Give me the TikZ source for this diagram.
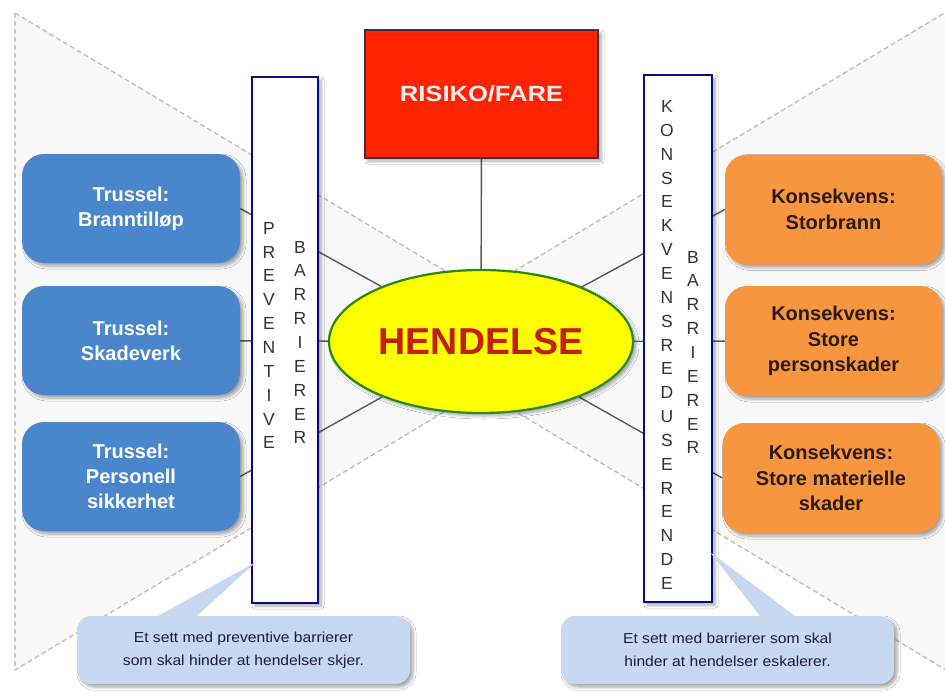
\documentclass[tikz,border=0pt]{standalone}
\usepackage{fontspec}
\setmainfont{Liberation Sans}
\usetikzlibrary{shapes.geometric,shadows.blur,calc}
\definecolor{tblue}{HTML}{4A86CB}
\definecolor{torange}{HTML}{F7963F}
\definecolor{otext}{HTML}{2B1A0E}
\definecolor{riskred}{HTML}{FF2200}
\definecolor{riskborder}{HTML}{4B2848}
\definecolor{riskfont}{HTML}{FFF0F0}
\definecolor{evgreen}{HTML}{2A8A10}
\definecolor{evred}{HTML}{C41E0E}
\definecolor{evyellow}{HTML}{FFFF00}
\definecolor{barnavy}{HTML}{0A0A80}
\definecolor{bartext}{HTML}{333333}
\definecolor{callfill}{HTML}{C6D9F0}
\definecolor{calltext}{HTML}{1C1C3A}
\definecolor{tribgfill}{HTML}{F9F9F9}
\definecolor{tribgline}{HTML}{B8B8B8}
\pgfdeclarelayer{bg}
\pgfsetlayers{bg,main}
\begin{document}
\begin{tikzpicture}[x=1pt,y=-1pt,
  boxshadow/.style={blur shadow={shadow xshift=3pt, shadow yshift=-3pt, shadow blur radius=3pt, shadow blur steps=6, shadow opacity=35}},
  tribg/.style={fill=tribgfill, draw=tribgline, dash pattern=on 5pt off 3pt, line width=1.2pt},
  conn/.style={draw=black!65, line width=1.4pt},
  bluebox/.style={rounded corners=22pt, fill=tblue, minimum width=218pt, minimum height=109pt, text=white, font=\fontsize{20}{25}\selectfont\bfseries, align=center, boxshadow},
  orangebox/.style={rounded corners=22pt, fill=torange, minimum width=217pt, minimum height=110pt, text=otext, font=\fontsize{20}{25.5}\selectfont\bfseries, align=center, boxshadow},
  barbox/.style={draw=barnavy, line width=2.2pt, fill=white, minimum width=66pt, minimum height=526pt, boxshadow},
  barletters/.style={font=\fontsize{17.5}{23.85}\selectfont, text=bartext, align=center, inner sep=0pt},
  riskbox/.style={fill=riskred, draw=riskborder, line width=1.8pt, minimum width=233pt, minimum height=128pt, text=riskfont, font=\fontsize{22}{26}\selectfont\bfseries, boxshadow},
  event/.style={ellipse, fill=evyellow, draw=evgreen, line width=2.2pt, minimum width=304pt, minimum height=143pt, inner sep=0pt, text=evred, font=\fontsize{37.5}{40}\selectfont\bfseries, boxshadow},
  callbox/.style={rounded corners=14pt, fill=callfill, minimum width=333pt, minimum height=68pt, align=center, text=calltext, font=\fontsize{14.5}{23}\selectfont\addfontfeature{FakeStretch=1.08}, boxshadow}
]
\useasboundingbox (0,0) rectangle (945,691);
\clip (0,0) rectangle (945,691);

% main nodes
\node[riskbox] (risk) at (481.5,94) {\scalebox{1.16}[1]{RISIKO/FARE}};
\node[event] (ev) at (481,341.5) {HENDELSE};

\node[barbox] (barL) at (285,340) {};
\node[barbox, minimum width=68pt, minimum height=527pt] (barR) at (678,338.5) {};

\node[barletters] (pv) at (269,335.5) {P\\R\\E\\V\\E\\N\\T\\I\\V\\E};
\node[barletters] (bl) at (300,342.5) {B\\A\\R\\R\\I\\E\\R\\E\\R};
\node[barletters] (kr) at (667,345) {K\\O\\N\\S\\E\\K\\V\\E\\N\\S\\R\\E\\D\\U\\S\\E\\R\\E\\N\\D\\E};
\node[barletters] (br) at (693,352.5) {B\\A\\R\\R\\I\\E\\R\\E\\R};

\node[bluebox] (t1) at (131,208.5) {Trussel:\\Branntilløp};
\node[bluebox] (t2) at (131,340.5) {Trussel:\\Skadeverk};
\node[bluebox] (t3) at (131,476.5) {Trussel:\\Personell\\sikkerhet};

\node[orangebox] (o1) at (833.5,209.5) {Konsekvens:\\Storbrann};
\node[orangebox] (o2) at (833.5,341) {Konsekvens:\\Store\\personskader};
\node[orangebox] (o3) at (831,478) {Konsekvens:\\Store materielle\\skader};

% callouts
\node[callbox] (cL) at (243.5,650) {Et sett med preventive barrierer\\som skal hinder at hendelser skjer.};
\node[callbox] (cR) at (727.5,650) {Et sett med barrierer som skal\\hinder at hendelser eskalerer.};
\coordinate (tipL) at (256,562);
\coordinate (tipR) at (710,552);
\fill[callfill] (tipL) -- ($(cL.north)+(-96,6)$) -- ($(cL.north)+(-53,6)$) -- cycle;
\fill[callfill] (tipR) -- ($(cR.north)+(37,6)$) -- ($(cR.north)+(75,6)$) -- cycle;

\begin{pgfonlayer}{bg}
  \fill[white] (0,0) rectangle (945,691);
  \coordinate (lt) at (15,13);
  \coordinate (lb) at (15,670);
  \coordinate (la) at (562,341);
  \coordinate (rt) at (946,12);
  \coordinate (rb) at (946,670);
  \coordinate (ra) at (398,341);
  \path[tribg] (lt) -- (lb) -- (la) -- cycle;
  \path[tribg] (rt) -- (rb) -- (ra) -- cycle;
  \draw[conn] (t1.east) -- (ev);
  \draw[conn] (t2) -- (ev);
  \draw[conn] (t3.east) -- (ev);
  \draw[conn] (ev) -- (o1.west);
  \draw[conn] (ev) -- (o2);
  \draw[conn] (ev) -- (o3.west);
  \draw[conn] (risk) -- (ev);
\end{pgfonlayer}
\end{tikzpicture}
\end{document}
